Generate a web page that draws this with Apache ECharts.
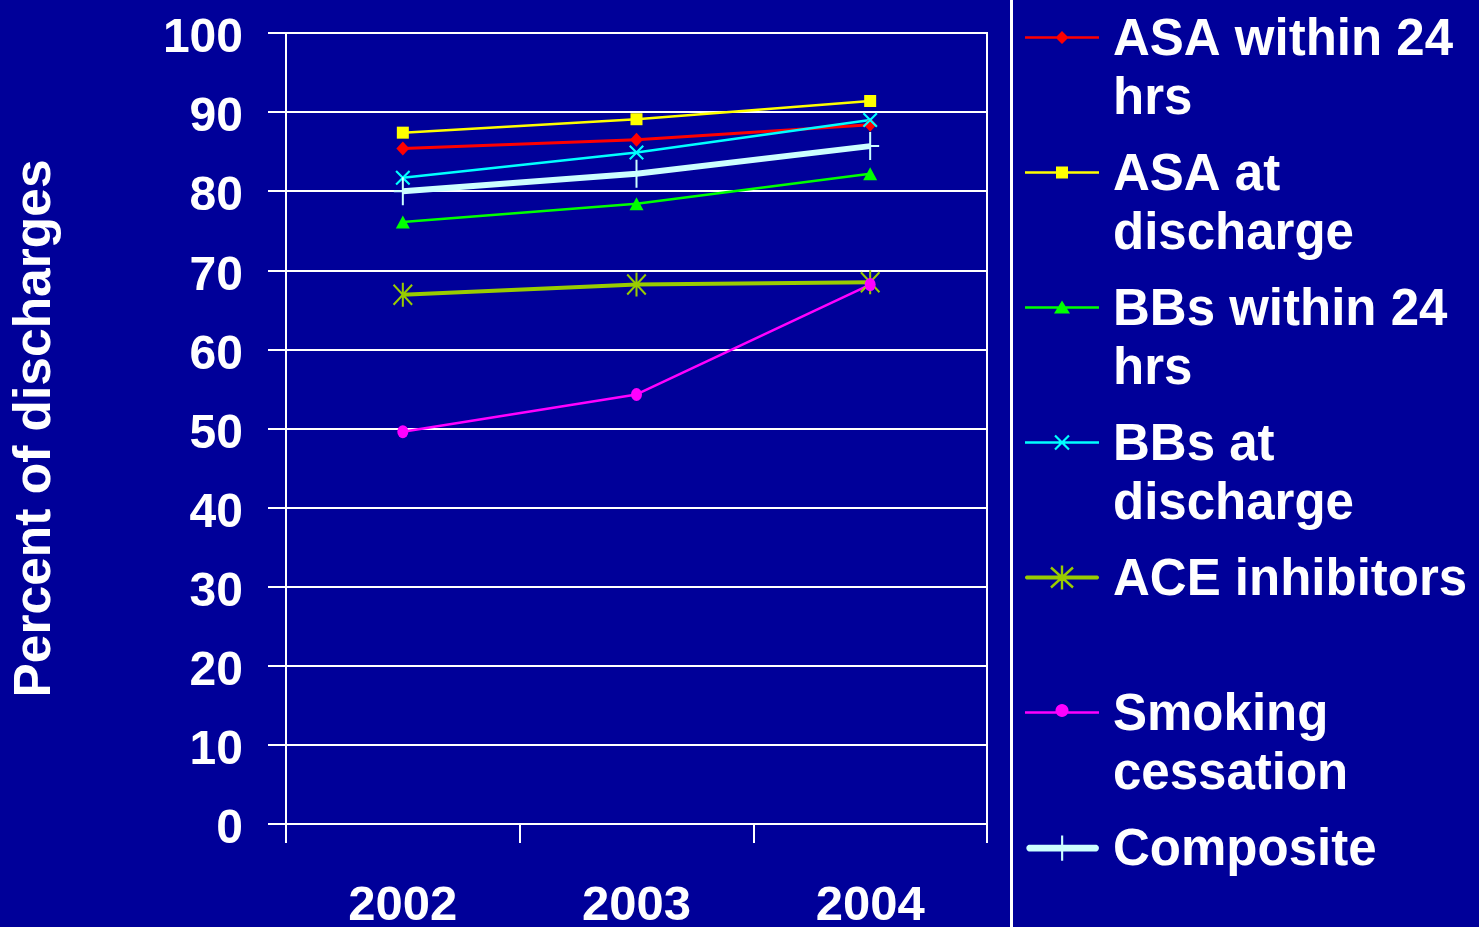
<!DOCTYPE html>
<html><head><meta charset="utf-8">
<script src="https://cdn.jsdelivr.net/npm/echarts@6/dist/echarts.min.js"></script>
<style>html,body{margin:0;padding:0;background:#000099;}#c{width:1479px;height:927px;}</style>
</head><body><div id="c"></div>
<script>
// ---- data ----
const years = ['2002', '2003', '2004'];
const seriesNames = ['ASA within 24 hrs', 'ASA at discharge', 'BBs within 24 hrs', 'BBs at discharge', 'ACE inhibitors', 'Smoking cessation', 'Composite'];
const legendLines = [['ASA within 24', 'hrs'], ['ASA at', 'discharge'], ['BBs within 24', 'hrs'], ['BBs at', 'discharge'], ['ACE inhibitors', ' '], ['Smoking', 'cessation'], ['Composite', ' ']];
const asa24 = [85.4, 86.5, 88.4];
const asaDischarge = [87.4, 89.1, 91.4];
const bb24 = [76.1, 78.4, 82.2];
const bbDischarge = [81.7, 84.9, 89.0];
const aceInhibitors = [66.9, 68.2, 68.5];
const smokingCessation = [49.6, 54.3, 68.2];
const compositeScore = [80.0, 82.2, 85.7];
const yMin = 0, yMax = 100, yStep = 10;
const yAxisTitle = 'Percent of discharges';

// ---- shape helpers (symbol glyphs only) ----
function f(n) { return (Math.round(n * 100) / 100).toString(); }
function poly(pts) {
  let a = 0;
  for (let i = 0; i < pts.length; i++) { const p = pts[i], q = pts[(i + 1) % pts.length]; a += p[0] * q[1] - q[0] * p[1]; }
  if (a > 0) pts = pts.slice().reverse();
  return 'M' + pts.map(p => f(p[0]) + ',' + f(p[1])).join(' L') + ' Z ';
}
function bar(ax, ay, bx, by, w) {
  const dx = bx - ax, dy = by - ay, L = Math.hypot(dx, dy);
  const nx = -dy / L * w / 2, ny = dx / L * w / 2;
  return poly([[ax + nx, ay + ny], [bx + nx, by + ny], [bx - nx, by - ny], [ax - nx, ay - ny]]);
}
function disc(cx, cy, r) {
  const pts = [];
  for (let i = 0; i < 28; i++) { const t = i / 28 * Math.PI * 2; pts.push([cx + r * Math.cos(t), cy + r * Math.sin(t)]); }
  return poly(pts);
}
function roundBar(ax, ay, bx, by, w) { return bar(ax, ay, bx, by, w) + disc(ax, ay, w / 2) + disc(bx, by, w / 2); }

// data-point symbols
const xMark = 'path://' + bar(-7, -7, 7, 7, 2.2) + bar(7, -7, -7, 7, 2.2);
const asterisk = 'path://' + bar(0, -12, 0, 12, 2.2) + bar(-10, -10, 10, 10, 2.2) + bar(10, -10, -10, 10, 2.2);
const plusMark = 'path://' + bar(0, -14, 0, 14, 2) + bar(-9, 0, 9, 0, 2);

// legend icons: box 83 x 30, marker centered at (37,12)
const IW = 83, IH = 30, CX = 37, CY = 12;
const frame = 'M0,0 M' + IW + ',' + IH + ' ';
const lineBar = w => bar(0, CY, 74, CY, w);
const legendIcons = [
  frame + lineBar(2.5) + poly([[CX, CY - 6.5], [CX + 6.5, CY], [CX, CY + 6.5], [CX - 6.5, CY]]),
  frame + lineBar(2.5) + poly([[CX - 6, CY - 6], [CX + 6, CY - 6], [CX + 6, CY + 6], [CX - 6, CY + 6]]),
  frame + lineBar(2.5) + poly([[CX, CY - 7], [CX + 8, CY + 6], [CX - 8, CY + 6]]),
  frame + lineBar(2.5) + bar(CX - 7, CY - 7, CX + 7, CY + 7, 2.2) + bar(CX + 7, CY - 7, CX - 7, CY + 7, 2.2),
  frame + roundBar(2, CY, 72, CY, 4) + bar(CX, CY - 12, CX, CY + 12, 2.4) + bar(CX - 11, CY - 10, CX + 11, CY + 10, 2.4) + bar(CX + 11, CY - 10, CX - 11, CY + 10, 2.4),
  frame + lineBar(2.5) + disc(CX, CY - 2, 6.5),
  frame + roundBar(3.5, CY, 71.5, CY, 7) + bar(CX, CY - 13, CX, CY + 13, 2.2)
];

const colors = ['#ff0000', '#ffff00', '#00ff00', '#00ffff', '#99cc00', '#ff00ff', '#ccffff'];
const values = [asa24, asaDischarge, bb24, bbDischarge, aceInhibitors, smokingCessation, compositeScore];
const symbols = ['diamond', 'rect', 'triangle', xMark, asterisk, 'circle', plusMark];
const symbolSizes = [[13, 14], 12, [14, 13], 15, [20, 24], [11, 13], [18, 28]];
const lineWidths = [3, 2.5, 2.5, 2.5, 4, 2.5, 6];

const FONT = '"Liberation Sans", Arial, sans-serif';
const chart = echarts.init(document.getElementById('c'), null, { renderer: 'canvas' });
chart.setOption({
  backgroundColor: '#000099',
  animation: false,
  grid: { left: 286, right: 492, top: 33, bottom: 103, outerBoundsMode: 'none', containLabel: false, show: true, borderColor: '#ffffff', borderWidth: 2, backgroundColor: 'transparent' },
  xAxis: {
    type: 'category', data: years, boundaryGap: true,
    axisLine: { show: true, lineStyle: { color: '#ffffff', width: 2 } },
    axisTick: { show: true, length: 19, interval: 0, lineStyle: { color: '#ffffff', width: 2 } },
    axisLabel: { color: '#ffffff', fontSize: 49, fontWeight: 'bold', fontFamily: FONT, margin: 58, interval: 0 },
    splitLine: { show: false }
  },
  yAxis: {
    type: 'value', min: yMin, max: yMax, interval: yStep,
    name: yAxisTitle, nameLocation: 'middle', nameRotate: 90, nameGap: 224,
    nameTextStyle: { color: '#ffffff', fontSize: 51.5, fontWeight: 'bold', fontFamily: FONT },
    axisLine: { show: true, lineStyle: { color: '#ffffff', width: 2 } },
    axisTick: { show: true, length: 18, lineStyle: { color: '#ffffff', width: 2 } },
    axisLabel: { color: '#ffffff', fontSize: 48, fontWeight: 'bold', fontFamily: FONT, margin: 43, verticalAlign: 'top', lineHeight: 12 },
    splitLine: { show: true, lineStyle: { color: '#ffffff', width: 2 } }
  },
  legend: {
    orient: 'vertical', left: 1025, top: -48, height: 1100, padding: 0,
    itemWidth: IW, itemHeight: IH, itemGap: -42, selectedMode: false,
    itemStyle: { borderWidth: 0 },
    data: seriesNames.map((n, i) => ({ name: n, icon: 'path://' + legendIcons[i] })),
    formatter: name => { const l = legendLines[seriesNames.indexOf(name)]; return ' \n' + l[0] + '\n' + l[1]; },
    textStyle: { color: '#ffffff', fontSize: 51, fontWeight: 'bold', fontFamily: FONT, lineHeight: 59 }
  },
  graphic: [{ type: 'line', shape: { x1: 1011.5, y1: 0, x2: 1011.5, y2: 927 }, style: { stroke: '#ffffff', lineWidth: 3 }, silent: true }],
  series: seriesNames.map((n, i) => ({
    name: n, type: 'line', data: values[i],
    color: colors[i],
    symbol: symbols[i], symbolSize: symbolSizes[i], showSymbol: true,
    lineStyle: { color: colors[i], width: lineWidths[i] },
    itemStyle: { color: colors[i], borderWidth: 0 },
    emphasis: { disabled: true }
  }))
});
</script></body></html>
